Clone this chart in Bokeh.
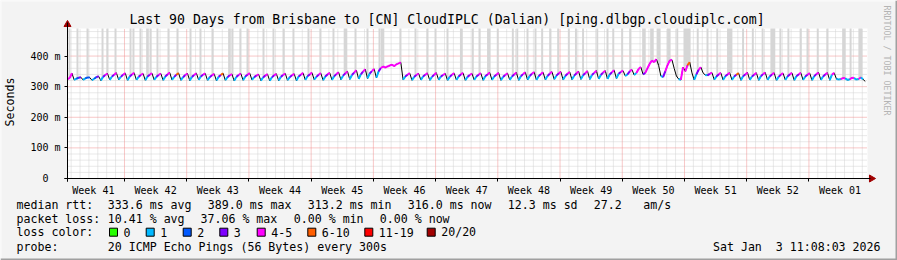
import math
import numpy as np
from bokeh.plotting import figure
from bokeh.models import FixedTicker, Range1d
from bokeh.core.properties import value
from bokeh.embed import file_html
from bokeh.resources import INLINE

# ---------------- data ----------------
TITLE = "Last 90 Days from Brisbane to [CN] CloudIPLC (Dalian) [ping.dlbgp.cloudiplc.com]"
week_labels = ["Week 41", "Week 42", "Week 43", "Week 44", "Week 45", "Week 46", "Week 47",
               "Week 48", "Week 49", "Week 50", "Week 51", "Week 52", "Week 01"]
y_ticks = [0, 100, 200, 300, 400]
y_tick_labels = ["0\u00a0\u00a0", "100 m", "200 m", "300 m", "400 m"]
loss_labels = ["0", "1", "2", "3", "4-5", "6-10", "11-19", "20/20"]
loss_colors = ["#26ff00", "#00b8ff", "#0059ff", "#7e00ff", "#ff00ff", "#ff5e00", "#ff0000", "#a10000"]

# median rtt (ms), 4 samples per day; each row = 6 days
median_ms = [
    325, 328, 344, 322, 326, 329, 331, 322, 327, 330, 330, 321, 326, 331, 334, 320, 332, 338, 343, 322, 333, 339, 345, 323,
    332, 339, 344, 321, 333, 340, 345, 322, 332, 338, 343, 321, 333, 339, 344, 322, 332, 338, 343, 321, 333, 340, 346, 322,
    332, 339, 344, 321, 331, 338, 343, 320, 332, 338, 344, 322, 333, 339, 343, 321, 331, 337, 342, 320, 332, 338, 344, 321,
    331, 337, 341, 319, 332, 338, 343, 321, 333, 339, 344, 322, 331, 336, 340, 320, 330, 336, 341, 319, 331, 337, 342, 320,
    332, 338, 343, 321, 331, 337, 342, 320, 333, 339, 345, 322, 334, 340, 346, 323, 332, 339, 344, 321, 333, 340, 345, 322,
    334, 341, 347, 323, 336, 343, 350, 324, 338, 346, 354, 325, 340, 349, 357, 327, 343, 351, 358, 329, 350, 361, 366, 362,
    366, 369, 372, 367, 373, 376, 379, 323, 333, 339, 344, 321, 332, 338, 343, 322, 333, 339, 344, 321, 332, 339, 345, 322,
    333, 338, 343, 321, 332, 339, 344, 322, 333, 340, 345, 321, 332, 338, 343, 322, 333, 339, 344, 321, 334, 340, 346, 322,
    333, 339, 345, 321, 332, 338, 344, 322, 333, 340, 346, 321, 334, 341, 347, 323, 335, 342, 348, 322, 334, 341, 347, 323,
    335, 342, 349, 324, 336, 343, 349, 323, 335, 342, 348, 323, 336, 343, 350, 324, 337, 344, 351, 324, 338, 345, 352, 325,
    338, 346, 352, 325, 340, 347, 354, 327, 342, 348, 352, 335, 340, 350, 356, 338, 345, 358, 364, 340, 345, 360, 375, 385,
    380, 390, 370, 335, 331, 350, 370, 385, 388, 360, 335, 325, 322, 364, 350, 370, 380, 345, 322, 340, 355, 364, 345, 338,
    337, 342, 346, 323, 333, 340, 345, 322, 334, 340, 345, 322, 333, 339, 344, 321, 334, 340, 346, 322, 333, 339, 345, 321,
    334, 341, 346, 322, 333, 340, 345, 321, 332, 339, 344, 322, 333, 340, 345, 321, 334, 340, 345, 322, 333, 339, 344, 321,
    334, 341, 346, 322, 333, 340, 345, 321, 339, 345, 326, 323, 325, 328, 327, 322, 324, 329, 328, 323, 325, 330, 324, 317,
]

# loss class per sample (index into loss_colors); each row = 6 days
loss_class = [
    1, 4, 4, 1, 1, 2, 3, 1, 1, 2, 2, 0, 1, 2, 3, 0, 1, 3, 4, 1, 1, 3, 4, 1,
    1, 3, 4, 1, 1, 3, 4, 1, 1, 3, 4, 1, 1, 3, 4, 1, 1, 3, 4, 0, 1, 3, 4, 1,
    1, 3, 5, 1, 1, 3, 4, 1, 1, 3, 4, 1, 1, 3, 4, 1, 1, 3, 4, 1, 1, 3, 5, 1,
    1, 3, 4, 1, 1, 3, 4, 0, 1, 3, 4, 1, 1, 3, 4, 1, 1, 3, 4, 1, 1, 3, 4, 1,
    1, 3, 4, 1, 1, 3, 4, 0, 1, 3, 4, 1, 1, 3, 4, 1, 1, 3, 4, 1, 1, 3, 4, 1,
    1, 3, 4, 1, 1, 3, 4, 1, 1, 3, 4, 1, 1, 3, 4, 1, 1, 3, 4, 1, 1, 3, 4, 4,
    4, 4, 4, 4, 4, 4, 4, 1, 1, 3, 4, 0, 1, 3, 4, 1, 1, 3, 4, 1, 1, 3, 4, 1,
    1, 3, 4, 1, 1, 3, 4, 1, 1, 3, 4, 0, 1, 3, 4, 1, 1, 3, 4, 1, 1, 3, 4, 1,
    1, 3, 4, 1, 1, 3, 4, 1, 1, 3, 4, 1, 1, 3, 4, 0, 1, 3, 4, 1, 1, 3, 4, 1,
    1, 3, 4, 1, 1, 3, 4, 1, 1, 3, 4, 1, 1, 3, 4, 1, 1, 3, 4, 1, 1, 3, 4, 1,
    1, 3, 4, 1, 1, 3, 4, 1, 1, 3, 4, 1, 1, 3, 4, 1, 1, 4, 4, 1, 3, 4, 4, 4,
    4, 4, 3, 1, 1, 3, 4, 4, 4, 3, 1, 1, 1, 4, 3, 4, 5, 3, 1, 1, 3, 4, 3, 1,
    1, 3, 4, 1, 1, 3, 4, 0, 1, 3, 4, 1, 1, 3, 5, 1, 1, 3, 4, 1, 1, 3, 4, 1,
    1, 3, 4, 1, 1, 3, 4, 1, 1, 3, 4, 0, 1, 3, 4, 1, 1, 3, 4, 1, 1, 3, 4, 1,
    1, 3, 4, 1, 1, 3, 4, 1, 1, 4, 1, 1, 1, 4, 4, 1, 1, 4, 4, 1, 1, 4, 1, 0,
]

# smoke spikes (outlier pings): position (days from graph start), width (days), top (ms)
spike_day = [0.22, 1.12, 2.25, 3.94, 4.5, 5.4, 7.09, 7.42, 8.21, 9.0, 9.34, 10.12, 11.36, 12.37,
             13.84, 14.96, 16.31, 18.22, 18.56, 19.46, 20.25, 22.05, 23.17, 24.3, 25.42, 27.11,
             28.46, 29.92, 31.27, 32.4, 33.75, 35.1, 35.44, 37.46, 39.15, 40.5, 41.4, 42.75,
             44.3, 45.6, 46.35, 47.4, 48.4, 50.1, 50.6, 51.75, 52.65, 53.4, 54.3, 55.2, 56.4,
             57.2, 58.0, 59.6, 60.75, 61.4, 62.4, 63.3, 64.85, 65.75, 66.5, 67.65, 68.6, 69.7,
             70.9, 72.0, 73.1, 74.5, 76.0, 77.1, 78.2, 79.35, 80.2, 81.1, 82.5, 83.25, 84.4,
             85.5, 87.35, 88.1, 89.2]
spike_width = [0.22, 0.22, 0.22, 0.22, 0.22, 0.22, 0.22, 0.22, 0.22, 0.3, 0.22, 0.22, 0.22, 0.22,
               0.22, 0.22, 0.22, 0.3, 0.22, 0.22, 0.22, 0.22, 0.22, 0.22, 0.22, 0.22,
               0.22, 0.22, 0.4, 0.22, 0.22, 0.22, 0.4, 0.22, 0.22, 0.22, 0.22, 0.22,
               0.3, 0.22, 0.22, 0.4, 0.22, 0.22, 0.22, 0.22, 0.22, 0.22, 0.22, 0.22, 0.22,
               0.22, 0.22, 0.22, 0.22, 0.22, 0.22, 0.22, 0.4, 0.4, 0.45, 0.4, 0.22, 0.8,
               0.22, 0.22, 0.22, 0.6, 0.22, 0.22, 0.22, 0.55, 0.22, 0.22, 0.22, 0.22, 0.22,
               0.22, 0.4, 0.22, 0.45]
spike_top = [500] * len(spike_day)

stat_row1 = ["median rtt:", "333.6 ms avg", "389.0 ms max", "313.2 ms min", "316.0 ms now",
             "12.3 ms sd", "27.2", "am/s"]
stat_row2 = ["packet loss:", "10.41 % avg", "37.06 % max", "0.00 % min", "0.00 % now"]
probe_text = "20 ICMP Echo Pings (56 Bytes) every 300s"
stamp_text = "Sat Jan\u00a0 3 11:08:03 2026"
side_text = "RRDTOOL / TOBI OETIKER"

# ---------------- layout constants (canvas pixels) ----------------
W, H = 897, 260
PX_L, PX_R, PX_T, PX_B = 67, 867, 28, 178      # plot area
DAYS, YMAX = 90, 490
FONT = "DejaVu Sans Mono"
BG = "#f3f3f3"
dpp = DAYS / (PX_R - PX_L)
mpp = YMAX / (PX_B - PX_T)

p = figure(width=W, height=H, output_backend="svg", toolbar_location=None,
           x_range=Range1d(-PX_L * dpp, DAYS + (W - PX_R) * dpp),
           y_range=Range1d(-(H - PX_B) * mpp, YMAX + PX_T * mpp),
           min_border=0, min_border_left=0, min_border_right=0,
           min_border_top=0, min_border_bottom=0,
           background_fill_color=BG, border_fill_color=BG, outline_line_color=None)
p.title.visible = False
p.xgrid.visible = False
p.ygrid.visible = False
p.extra_x_ranges = {"px": Range1d(0, W)}
p.extra_y_ranges = {"px": Range1d(H, 0)}
PX = dict(x_range_name="px", y_range_name="px")

# plot canvas (white) and grid
p.quad(left=[0], right=[DAYS], bottom=[0], top=[YMAX], fill_color="#ffffff", line_color=None)
week_bounds = [round(6.41 + 7 * k, 2) for k in range(12)]
day_lines = [round(0.41 + k, 2) for k in range(90) if (k % 7) != 6]
ms_minor = [v for v in range(20, YMAX, 20) if v % 100]
ms_major = [100, 200, 300, 400]
p.segment(x0=day_lines, x1=day_lines, y0=0, y1=YMAX, line_color="#d2d2d2", line_width=1, line_dash="1 1")
p.segment(x0=0, x1=DAYS, y0=ms_minor, y1=ms_minor, line_color="#d2d2d2", line_width=1, line_dash="1 1")
p.segment(x0=week_bounds, x1=week_bounds, y0=0, y1=YMAX, line_color="#f09090", line_width=1, line_dash="1 1")
p.segment(x0=0, x1=DAYS, y0=ms_major, y1=ms_major, line_color="#f09090", line_width=1, line_dash="1 1")

# axes, drawn at the data origin
centers = [round(b - 3.5, 2) for b in week_bounds] + [round(week_bounds[-1] + 3.5, 2)]
xa = p.xaxis[0]
xa.fixed_location = 0
xa.bounds = (-3 * dpp, DAYS + 3 * dpp)
xa.ticker = FixedTicker(ticks=centers, minor_ticks=[0] + week_bounds)
xa.major_label_overrides = {c: lab for c, lab in zip(centers, week_labels)}
xa.major_tick_out = 0
xa.major_tick_in = 0
xa.minor_tick_out = 3
xa.minor_tick_in = 0
xa.major_label_standoff = 3
ya = p.yaxis[0]
ya.fixed_location = 0
ya.bounds = (-3 * mpp, YMAX + 6 * mpp)
ya.ticker = FixedTicker(ticks=y_ticks, minor_ticks=[])
ya.major_label_overrides = {tk: lab for tk, lab in zip(y_ticks, y_tick_labels)}
ya.major_tick_out = 3
ya.major_tick_in = 0
ya.minor_tick_out = 0
ya.minor_tick_in = 0
ya.major_label_standoff = 4
ya.axis_label = "Seconds"
ya.axis_label_standoff = 10
ya.axis_label_text_font = FONT
ya.axis_label_text_font_size = "11.6px"
ya.axis_label_text_font_style = "normal"
ya.axis_label_text_color = "#000000"
for ax in (xa, ya):
    ax.axis_line_color = "#000000"
    ax.major_tick_line_color = "#000000"
    ax.minor_tick_line_color = "#000000"
    ax.major_label_text_font = FONT
    ax.major_label_text_font_size = "10px"
    ax.major_label_text_color = "#000000"

# ---------------- data marks ----------------
t = np.arange(len(median_ms)) * 0.25
med = np.array(median_ms, dtype=float)

sp_x = np.array(spike_day)
sp_bottom = np.interp(sp_x, t, med)
sp_top = np.minimum(np.array(spike_top, dtype=float), YMAX)
p.vbar(x=sp_x, width=spike_width, bottom=sp_bottom, top=sp_top,
       fill_color="#d6d6d6", line_color=None)

p.line(t, med, line_color="#000000", line_width=1)
xs, ys, cs = [], [], []
for i in range(len(med) - 1):
    if med[i + 1] >= med[i] - 6:
        xs.append([t[i], t[i + 1]])
        ys.append([med[i], med[i + 1]])
        cs.append(loss_colors[loss_class[i + 1]])
p.multi_line(xs, ys, line_color=cs, line_width=2)

# ---------------- decorations (canvas pixel coordinates) ----------------
p.scatter(x=[PX_L], y=[PX_T - 4], marker="triangle", size=7, fill_color="#a00000",
          line_color="#a00000", **PX)
p.scatter(x=[PX_R + 4], y=[PX_B], marker="triangle", size=7, angle=-math.pi / 2,
          fill_color="#a00000", line_color="#a00000", **PX)

p.quad(left=[0, 0], right=[W, 1], top=[0, 0], bottom=[1, H], fill_color="#fbfbfb", line_color=None, **PX)
p.quad(left=[0, W - 2], right=[W, W], top=[H - 2, 0], bottom=[H, H], fill_color="#a0a0a0", line_color=None, **PX)

TXT = dict(text_font=value(FONT), text_baseline="middle", text_color="#000000", **PX)
p.text(x=[446.5], y=[19], text=[TITLE], text_font_size=value("13.2px"), text_align="center", **TXT)
p.text(x=[886.3], y=[60], text=[side_text], text_font_size=value("8.3px"), text_align="center",
       angle=-math.pi / 2, text_font=value(FONT), text_baseline="middle", text_color="#b4b4b4", **PX)

row_y = [204, 218.3, 231.7, 246]
tx, ty, tt = [], [], []
for xx, txt in zip([16, 107.3, 207.3, 307.3, 407.3, 507.3, 593.3, 642.7], stat_row1):
    tx.append(xx); ty.append(row_y[0]); tt.append(txt)
for xx, txt in zip([16, 107.3, 200, 293.3, 379.3], stat_row2):
    tx.append(xx); ty.append(row_y[1]); tt.append(txt)
tx.append(16); ty.append(row_y[2]); tt.append("loss color:")
box_x = [109, 145.7, 182.7, 219.3, 256.7, 307.3, 364.3, 426.7]
for bx, lab in zip(box_x, loss_labels):
    tx.append(bx + 14); ty.append(row_y[2]); tt.append(lab)
tx.append(16); ty.append(row_y[3]); tt.append("probe:")
tx.append(107.3); ty.append(row_y[3]); tt.append(probe_text)
p.text(x=tx, y=ty, text=tt, text_font_size=value("11.6px"), text_align="left", **TXT)
p.text(x=[880], y=[row_y[3]], text=[stamp_text], text_font_size=value("11.6px"), text_align="right", **TXT)
bx_arr = np.array(box_x)
p.quad(left=bx_arr, right=bx_arr + 8, top=row_y[2] - 4, bottom=row_y[2] + 4,
       fill_color=loss_colors, line_color="#000000", line_width=1, **PX)

open("out.html", "w").write(file_html(p, INLINE))
